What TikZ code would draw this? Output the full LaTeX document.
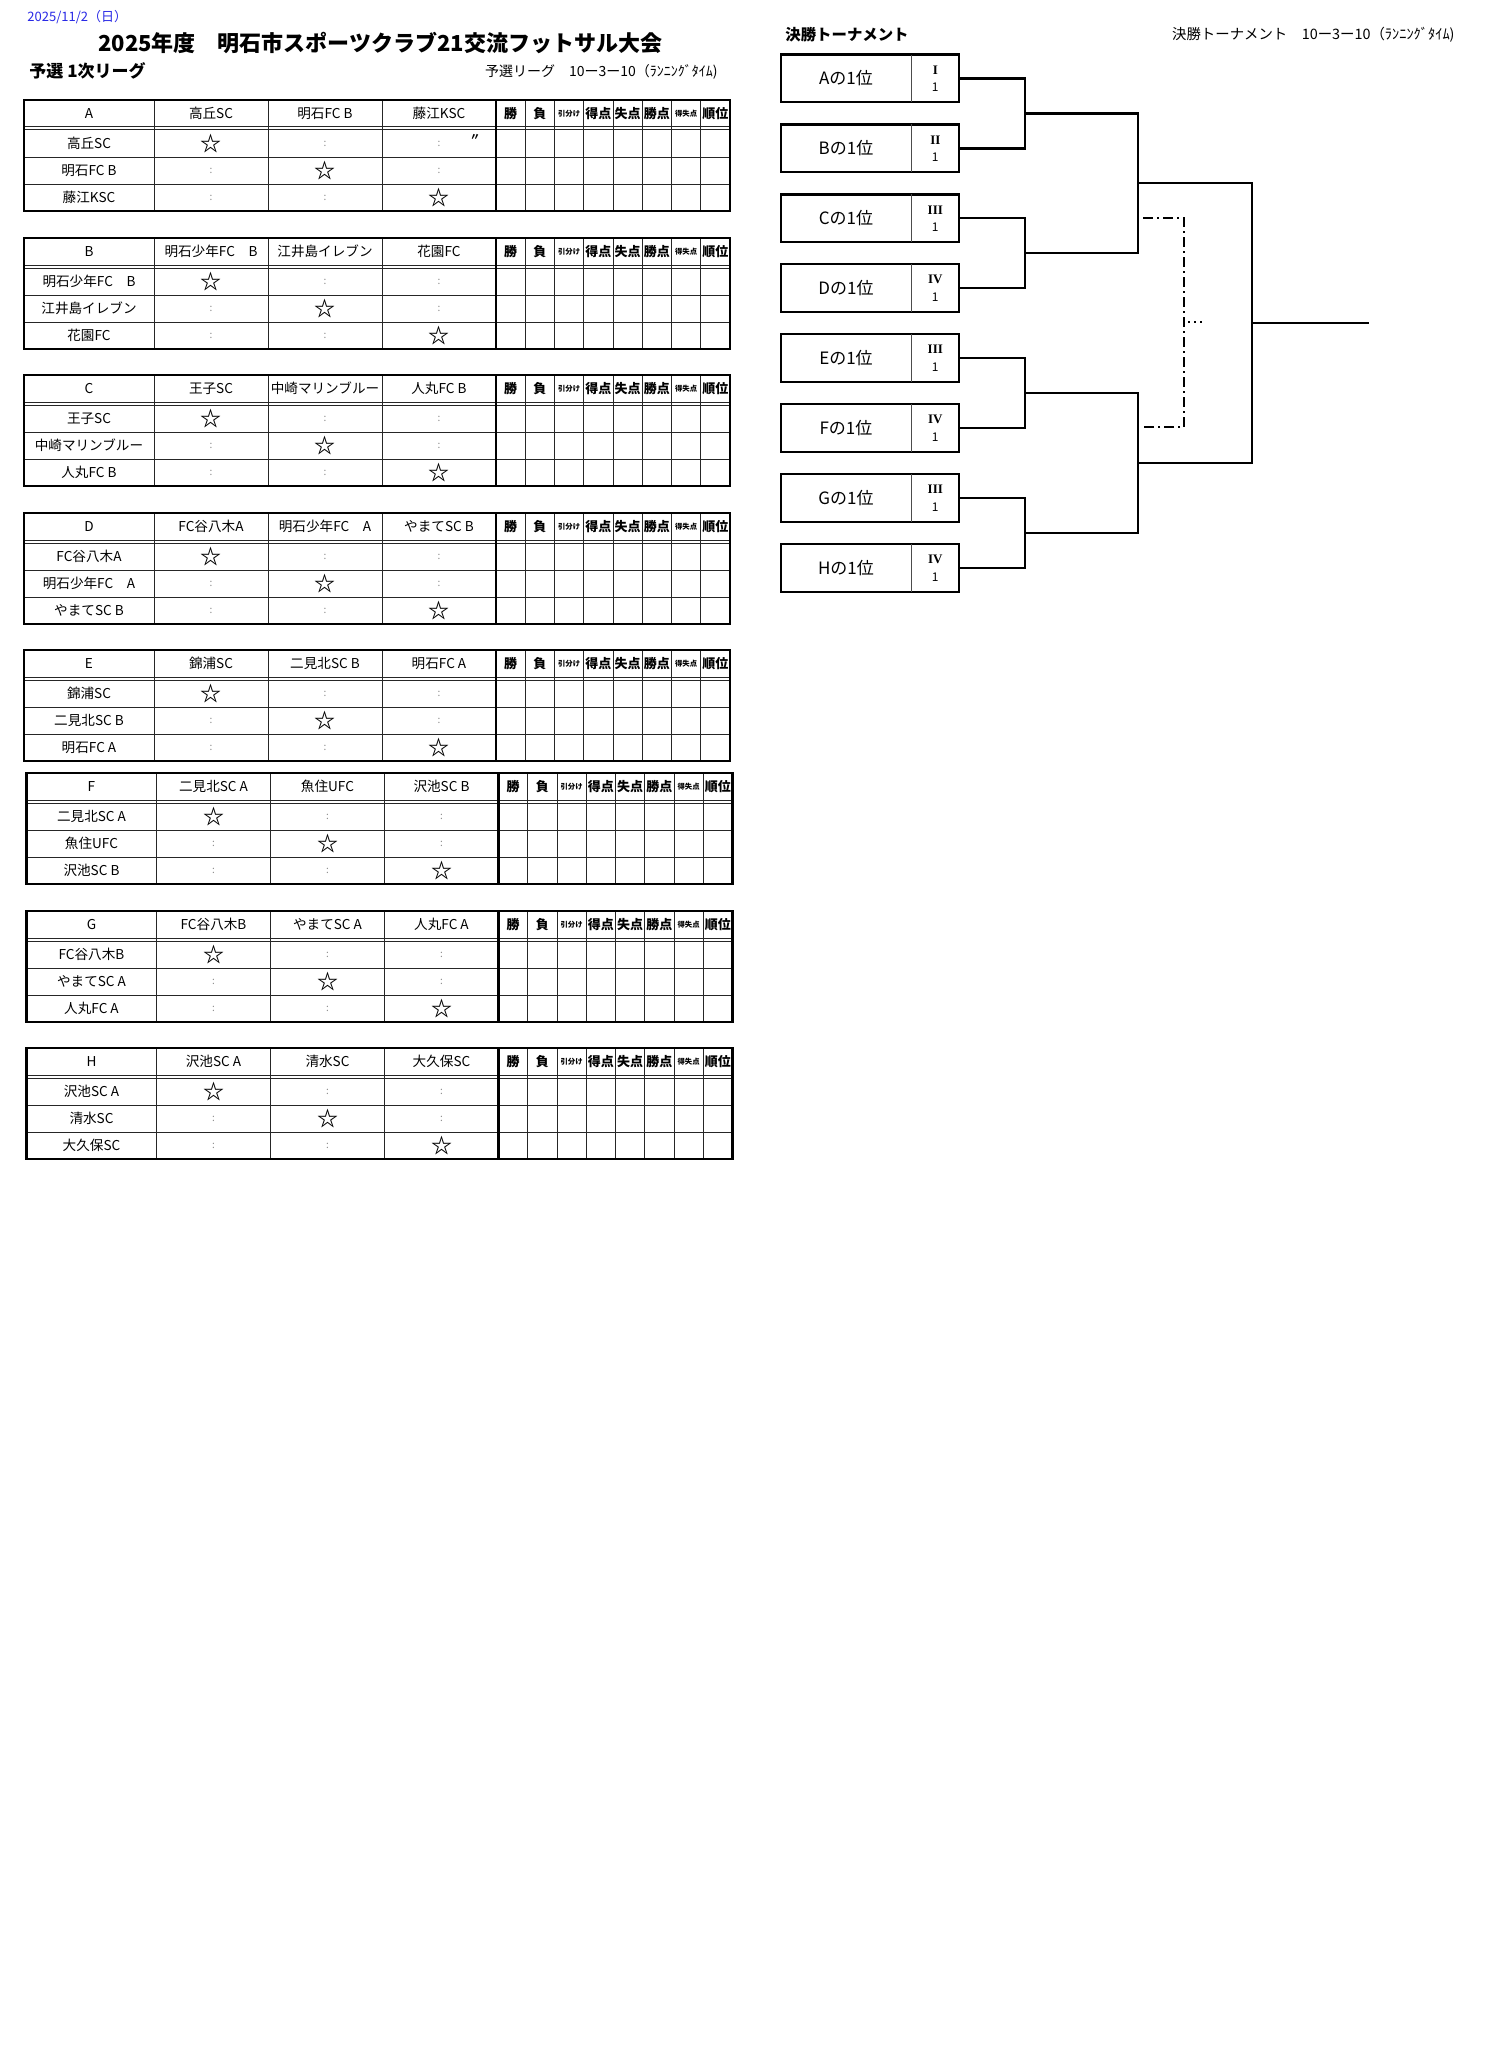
\documentclass[tikz,border=0pt]{standalone}
\usepackage{fontspec}
\setmainfont{Noto Sans CJK JP}
\newfontfamily\romanfont{Liberation Serif}
\usetikzlibrary{calc,positioning}

\definecolor{datecol}{RGB}{40,40,230}
\definecolor{colongray}{RGB}{140,140,140}

\tikzset{
  tblthin/.style={line width=0.5pt, black!85},
  tblthick/.style={line width=1.1pt},
  cell/.style={inner sep=0pt, font=\fontsize{6.8}{8}\selectfont},
  starmark/.style={inner sep=0pt, font=\fontsize{10.5}{11}\selectfont\bfseries},
  colon/.style={inner sep=0pt, text=colongray, font=\fontsize{5}{6}\selectfont},
  slot/.style={inner sep=0pt, minimum width=65pt, minimum height=23.5pt, font=\fontsize{8.5}{10}\selectfont},
  seed/.style={inner sep=0pt, minimum width=23.5pt, minimum height=23.5pt},
  seedtxt/.style={inner sep=0pt, font=\fontsize{6}{7}\selectfont},
  boxline/.style={line width=1.1pt},
  bracket/.style={line width=1.1pt},
  dashdot line/.style={line width=1.1pt, dash pattern=on 5pt off 2pt on 1pt off 2pt},
  dot line/.style={line width=1.1pt, dash pattern=on 1pt off 2pt},
}

% one league table: x, y, group, three teams
\newcommand\league[6]{%
\begin{scope}[shift={(#1,#2)}]
  \foreach \x in {130,244,358} \draw[tblthin] (\x,0) -- (\x,111);
  \foreach \k in {1,...,7} \draw[tblthin] ({472+29.25*\k},0) -- ({472+29.25*\k},111);
  \foreach \y in {27,30,57,84} \draw[tblthin] (0,\y) -- (706,\y);
  \draw[tblthick] (472,0) -- (472,111);
  \draw[tblthick] (0,0) rectangle (706,111);
  \node[cell] (#3-head) at (65,13.5) {#3};
  \foreach \team [count=\i] in {#4,#5,#6} {
    \node[cell] (#3-col\i) at (73+114*\i,13.5) {\team};
    \node[cell] (#3-row\i) at (65,16.5+27*\i) {\team};
    \node[starmark] (#3-star\i) at (73+114*\i,16.5+27*\i) {☆};
  }
  \foreach \i/\j in {1/2,1/3,2/1,2/3,3/1,3/2}
    \node[colon] (#3-c\i\j) at (73+114*\j,16.5+27*\i) {:};
  \foreach \lbl/\sz [count=\k from 0] in {勝/6.5,負/6.5,引分け/3.7,得点/6.5,失点/6.5,勝点/6.5,得失点/3.7,順位/6.5}
    \node[inner sep=0pt, font=\fontsize{\sz}{8}\selectfont\bfseries] (#3-sh\k) at ({472+29.25*(\k+0.5)},13.5) {\lbl};
\end{scope}}

\begin{document}
\begin{tikzpicture}[x=0.5pt,y=-0.5pt]
\fill[white] (0,0) rectangle (1500,2055);
\useasboundingbox (0,0) rectangle (1500,2055);

% headings
\node[anchor=west, inner sep=0pt, text=datecol, font=\fontsize{6.5}{8}\selectfont] (date) at (27,17) {2025/11/2（日）};
\node[anchor=west, inner sep=0pt, font=\fontsize{11}{13}\selectfont\bfseries] (title) at (98,43) {2025年度　明石市スポーツクラブ21交流フットサル大会};
\node[anchor=west, inner sep=0pt, font=\fontsize{8.5}{10}\selectfont\bfseries] (league) at (29,71) {予選 1次リーグ};
\node[anchor=east, inner sep=0pt, font=\fontsize{7}{8}\selectfont] (leaguerule) at (718,72) {予選リーグ　10ー3ー10（ﾗﾝﾆﾝｸﾞﾀｲﾑ)};
\node[anchor=west, inner sep=0pt, font=\fontsize{7.7}{9}\selectfont\bfseries] (final) at (785,35) {決勝トーナメント};
\node[anchor=east, inner sep=0pt, font=\fontsize{7.2}{8}\selectfont] (finalrule) at (1455,35) {決勝トーナメント　10ー3ー10（ﾗﾝﾆﾝｸﾞﾀｲﾑ)};

% league tables
\league{24}{100}{A}{高丘SC}{明石FC B}{藤江KSC}
\node[inner sep=0pt, font=\fontsize{5}{6}\selectfont\bfseries] (A-ditto) at (475,137) {〃};
\league{24}{238}{B}{明石少年FC　B}{江井島イレブン}{花園FC}
\league{24}{375}{C}{王子SC}{中崎マリンブルー}{人丸FC B}
\league{24}{513}{D}{FC谷八木A}{明石少年FC　A}{やまてSC B}
\league{24}{650}{E}{錦浦SC}{二見北SC B}{明石FC A}
\league{26.5}{773}{F}{二見北SC A}{魚住UFC}{沢池SC B}
\league{26.5}{911}{G}{FC谷八木B}{やまてSC A}{人丸FC A}
\league{26.5}{1048}{H}{沢池SC A}{清水SC}{大久保SC}

% final tournament slots
\foreach \g/\num [count=\k from 0] in {A/I,B/II,C/III,D/IV,E/III,F/IV,G/III,H/IV} {
  \node[slot] (slot\g) at (846,78.5+69.9*\k) {{\g}の1位};
  \node[seed, right=0pt of slot\g] (seed\g) {};
  \node[seedtxt, font=\romanfont\fontsize{6.5}{7}\selectfont\bfseries] (num\g) at ($(seed\g.center)+(0,-8.5)$) {\num};
  \node[seedtxt] (one\g) at ($(seed\g.center)+(0,9.2)$) {1};
  \draw[boxline] (slot\g.north west) rectangle (seed\g.south east);
  \draw[line width=0.6pt, black!70] (seed\g.north west) -- (seed\g.south west);
}

% bracket
\coordinate (ab) at (1025,113.5);
\coordinate (cd) at (1025,253.2);
\coordinate (ef) at (1025,393);
\coordinate (gh) at (1025,533);
\coordinate (abcd) at (1138,183.3);
\coordinate (efgh) at (1138,463);
\coordinate (fin) at (1252,323);
\coordinate (champ) at (1369,323);
\draw[bracket] (seedA.east) -| (ab) |- (seedB.east);
\draw[bracket] (seedC.east) -| (cd) |- (seedD.east);
\draw[bracket] (seedE.east) -| (ef) |- (seedF.east);
\draw[bracket] (seedG.east) -| (gh) |- (seedH.east);
\draw[bracket] (ab) -| (abcd) |- (cd);
\draw[bracket] (ef) -| (efgh) |- (gh);
\draw[bracket] (abcd) -| (fin) |- (efgh);
\draw[bracket] (fin) -- (champ);

% third place
\coordinate (third-a) at (1143,218);
\coordinate (third-b) at (1143,427);
\coordinate (third-mid) at (1184,322);
\coordinate (third-end) at (1206,322);
\draw[dashdot line] (third-a) -| (third-mid) |- (third-b);
\draw[dot line] ([xshift=2pt]third-mid) -- (third-end);
\end{tikzpicture}
\end{document}
